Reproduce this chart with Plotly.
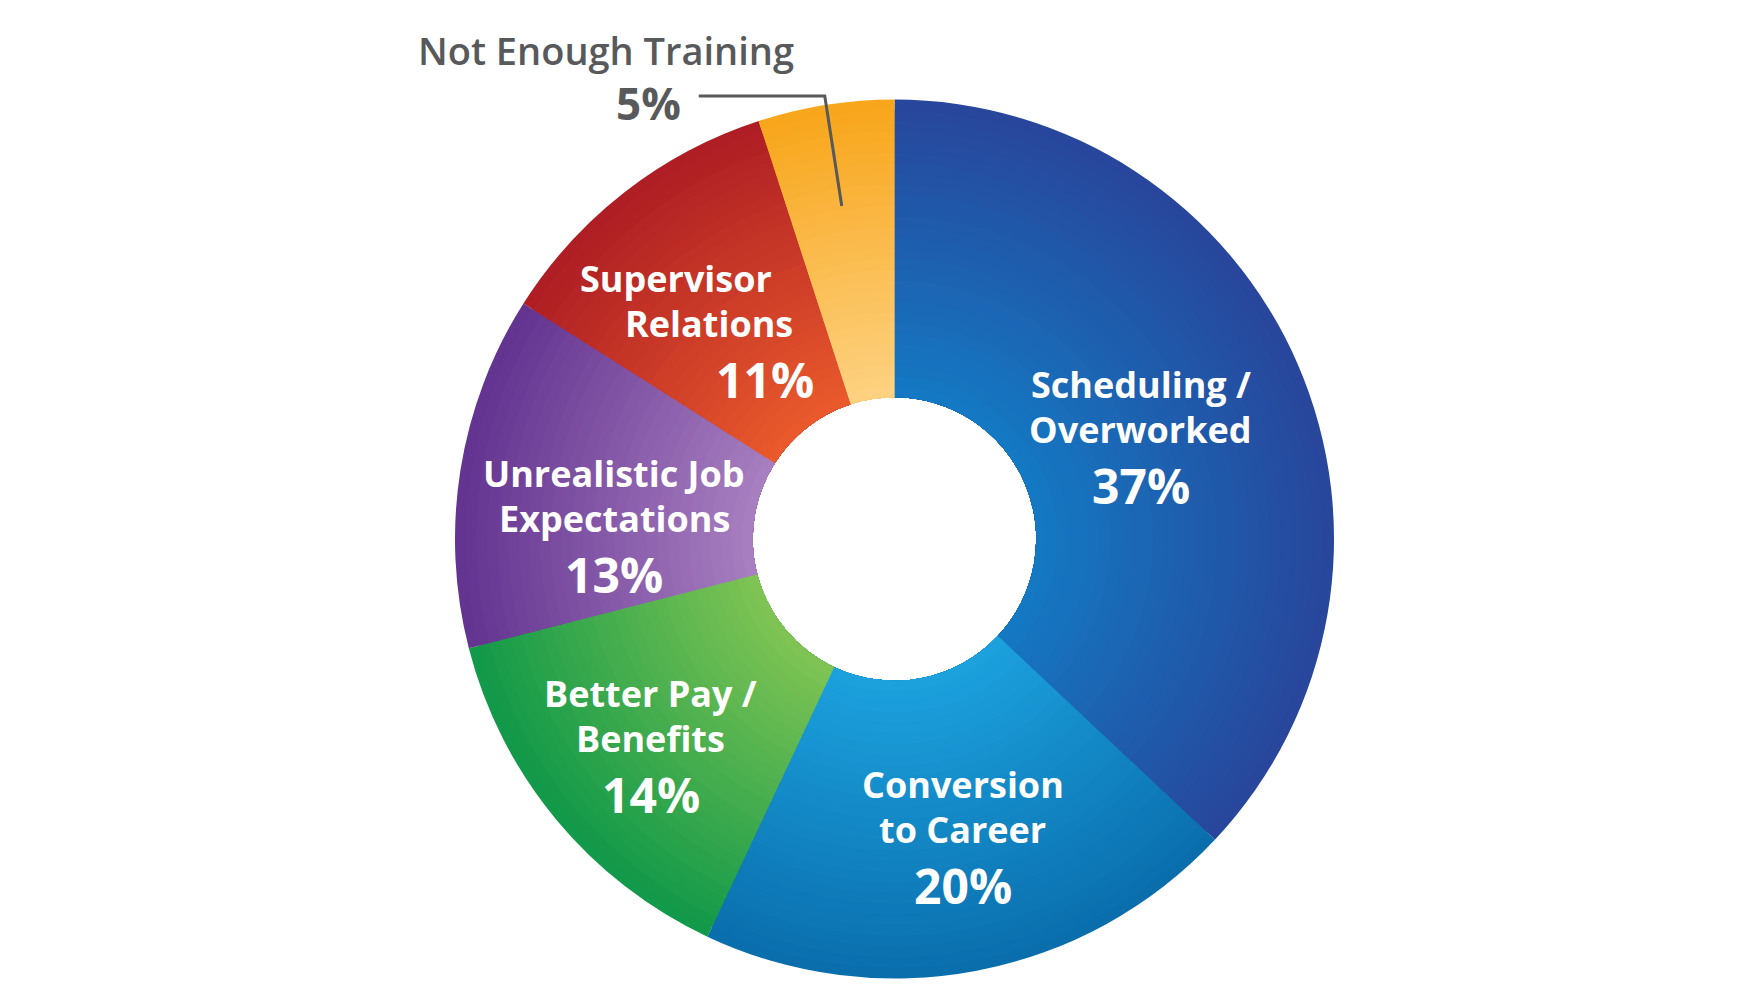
import numpy as np
import plotly.graph_objects as go

# ---------------- data ----------------
categories = ["Scheduling / Overworked", "Conversion to Career", "Better Pay / Benefits",
              "Unrealistic Job Expectations", "Supervisor Relations", "Not Enough Training"]
values = [37, 20, 14, 13, 11, 5]
label_lines = [["Scheduling /", "Overworked"], ["Conversion", "to Career"],
               ["Better Pay /", "Benefits"], ["Unrealistic Job", "Expectations"],
               ["Supervisor", "Relations"], ["Not Enough Training"]]

# ---------------- style ----------------
inner_colors = ["#1479c3", "#1ca2de", "#80c453", "#a87fc0", "#ea5a2c", "#fdd282"]
outer_colors = ["#28459a", "#0a6dac", "#10984a", "#62338f", "#ad1d24", "#f8a519"]

W, H = 1750, 1000
CX, CY = 894.5, 539.0          # pie centre (px)
R = 439.5                      # outer radius (px)
R_HOLE = 141.7                 # hole radius (px)
N_RINGS = 28
FONT = "Open Sans"
GRAY = "#58595b"

# per-label placement (style): radial fraction, pixel nudge, per-line x nudges
label_r = [0.610, 0.686, 0.726, 0.636, 0.628]
label_nudge = [(0, 1), (12, -1.5), (2, 0), (-4, 27), (-9, 7)]
line_dx = [(0, 0, 0), (0, 0, 0), (0, 0, 0), (0, 0, 0), (-40, -7, 49)]
line_dy = (-49, -4, 52)
line_size = (36, 36, 48)


def hex2rgb(h):
    h = h.lstrip("#")
    return np.array([int(h[i:i + 2], 16) for i in (0, 2, 4)], dtype=float)


def mix(c1, c2, t):
    c = hex2rgb(c1) * (1 - t) + hex2rgb(c2) * t
    return "rgb(%d,%d,%d)" % tuple(np.round(c).astype(int))


def px2paper(x, y):
    return x / W, 1 - y / H


fig = go.Figure()

# stacked full donuts from outer to inner -> radial gradient inside each slice
for k in range(N_RINGS, 0, -1):
    r_k = R_HOLE + (R - R_HOLE) * k / N_RINGS
    t = (k - 0.5) / N_RINGS
    cols = [mix(ci, co, t) for ci, co in zip(inner_colors, outer_colors)]
    fig.add_trace(go.Pie(
        labels=categories, values=values, sort=False, direction="clockwise",
        rotation=0, hole=R_HOLE / r_k, textinfo="none",
        marker=dict(colors=cols, line=dict(width=0)),
        hoverinfo="label+percent" if k == N_RINGS else "skip",
        showlegend=False,
        domain=dict(x=[(CX - r_k) / W, (CX + r_k) / W],
                    y=[1 - (CY + r_k) / H, 1 - (CY - r_k) / H]),
    ))

total = float(sum(values))
cum = np.concatenate([[0], np.cumsum(values)[:-1]])
mid_deg = (cum + np.array(values) / 2) / total * 360
pcts = ["%d%%" % round(v / total * 100) for v in values]

annotations = []
for i in range(5):
    a = np.radians(mid_deg[i])
    bx = CX + label_r[i] * R * np.sin(a) + label_nudge[i][0]
    by = CY - label_r[i] * R * np.cos(a) + label_nudge[i][1]
    texts = label_lines[i] + [pcts[i]]
    for j, txt in enumerate(texts):
        x, y = px2paper(bx + line_dx[i][j], by + line_dy[j])
        annotations.append(dict(
            x=x, y=y, xref="paper", yref="paper", text=txt, showarrow=False,
            xanchor="center", yanchor="middle",
            font=dict(family=FONT, size=line_size[j], color="white", weight=700)))

# outside label with leader line for the small slice
i = 5
a = np.radians(mid_deg[i])
ex = CX + 0.767 * R * np.sin(a)
ey = CY - 0.767 * R * np.cos(a)
corner_x, corner_y = ex - 17, ey - 110
start_x = corner_x - 126
p0 = px2paper(start_x, corner_y)
p1 = px2paper(corner_x, corner_y)
p2 = px2paper(ex, ey)
fig.add_shape(type="path", xref="paper", yref="paper",
              path="M %f,%f L %f,%f L %f,%f" % (p0[0], p0[1], p1[0], p1[1], p2[0], p2[1]),
              line=dict(color=GRAY, width=3))

x, y = px2paper(start_x - 16, corner_y + 7)
annotations.append(dict(x=x, y=y, xref="paper", yref="paper", text=pcts[i],
                        showarrow=False, xanchor="right", yanchor="middle",
                        font=dict(family=FONT, size=44, color=GRAY, weight=700)))
x, y = px2paper(start_x + 97, corner_y - 46)
annotations.append(dict(x=x, y=y, xref="paper", yref="paper", text=label_lines[i][0],
                        showarrow=False, xanchor="right", yanchor="middle",
                        font=dict(family=FONT, size=38, color=GRAY, weight=600)))

fig.update_layout(
    width=W, height=H, margin=dict(l=0, r=0, t=0, b=0),
    paper_bgcolor="white", plot_bgcolor="white",
    annotations=annotations, showlegend=False,
)

fig.write_html("out.html")
